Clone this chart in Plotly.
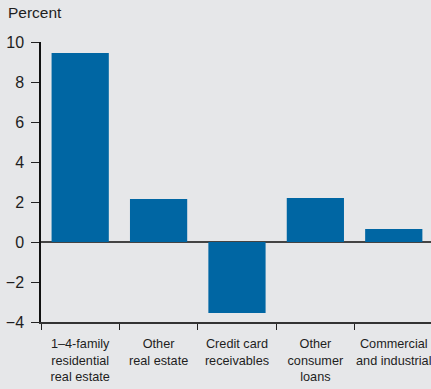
import plotly.graph_objects as go

categories = ["1–4-family<br>residential<br>real estate", "Other<br>real estate",
              "Credit card<br>receivables", "Other<br>consumer<br>loans",
              "Commercial<br>and industrial"]
values = [9.45, 2.15, -3.55, 2.2, 0.65]
y_ticks = [-4, -2, 0, 2, 4, 6, 8, 10]

bg = "#e6e7e9"
fig = go.Figure(go.Bar(x=categories, y=values, marker_color="#0066a3",
                       marker_line_width=0, width=0.73))
fig.update_layout(
    width=431, height=389,
    margin=dict(l=41, r=0, t=42, b=67, autoexpand=False),
    paper_bgcolor=bg, plot_bgcolor=bg,
    font=dict(family="Liberation Sans, Arial, sans-serif", color="#1e1e1e"),
    showlegend=False,
)
fig.update_xaxes(type="category", range=[-0.5, 4.475], tickson="boundaries",
                 ticks="outside", ticklen=6, tickcolor="#222222", tickangle=0,
                 automargin=False, ticklabelstandoff=9,
                 showline=True, linecolor="#333333", linewidth=1.5,
                 showgrid=False,
                 tickfont=dict(size=12.7),
                 fixedrange=True)
fig.update_yaxes(range=[-4, 10], tickvals=y_ticks, ticks="outside", ticklen=8,
                 tickcolor="#222222", showline=True, linecolor="#111111",
                 linewidth=1.5, showgrid=False, zeroline=True, automargin=False,
                 zerolinecolor="#444444", zerolinewidth=1.5,
                 ticklabelstandoff=4,
                 tickfont=dict(size=16))
fig.add_annotation(text="Percent", xref="paper", yref="paper", x=-35/390,
                   y=1 + 29/280, xanchor="left", yanchor="middle",
                   showarrow=False, font=dict(size=15.5, color="#1e1e1e"))
fig.write_html("out.html", config={"displayModeBar": False},
               post_script="document.body.style.margin='0';document.body.style.overflow='hidden';")
